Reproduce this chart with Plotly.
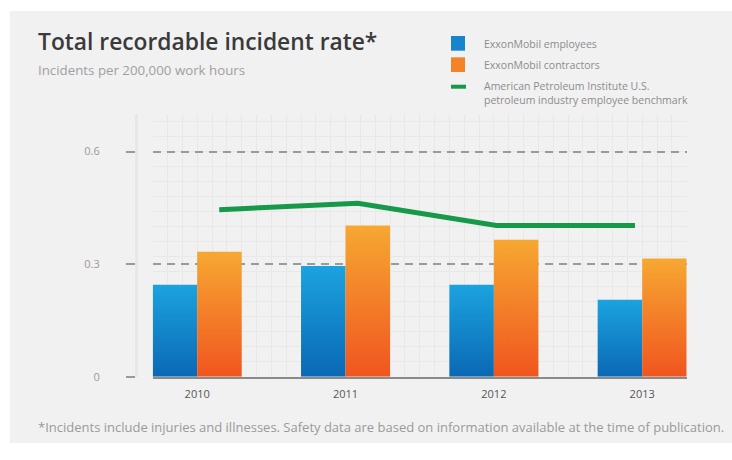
import plotly.graph_objects as go

# --- data -------------------------------------------------------------
years = ["2010", "2011", "2012", "2013"]
employees = [0.245, 0.295, 0.245, 0.205]
contractors = [0.333, 0.403, 0.365, 0.315]
api_benchmark = [0.445, 0.462, 0.403, 0.403]
y_ticks = [0, 0.3, 0.6]

# --- styling ------------------------------------------------------------
W, H = 732, 460
BLUE = ("#0a68b4", "#1ca3df")      # bottom, top
ORANGE = ("#f0551f", "#f6a832")    # bottom, top
GREEN = "#17994a"
BAR_W = 0.3


def px(x):
    return x / W


def py(y):
    return 1 - y / H


fig = go.Figure()


def add_bars(values, offset, colors, name):
    for i, v in enumerate(values):
        x0 = i + offset
        x1 = x0 + BAR_W
        fig.add_trace(go.Scatter(
            x=[x0, x0, x1, x1, x0],
            y=[0, v, v, 0, 0],
            mode="lines",
            fill="toself",
            line=dict(width=0),
            fillgradient=dict(type="vertical",
                              colorscale=[[0, colors[0]], [1, colors[1]]]),
            name=name,
            hoveron="fills",
            text=f"{name} {years[i]}: {v}",
            hoverinfo="text",
            showlegend=False,
        ))


add_bars(employees, -BAR_W, BLUE, "ExxonMobil employees")
add_bars(contractors, 0.0, ORANGE, "ExxonMobil contractors")

fig.add_trace(go.Scatter(
    x=list(range(len(years))),
    y=api_benchmark,
    xaxis="x2",
    mode="lines",
    line=dict(color=GREEN, width=5),
    name="American Petroleum Institute U.S. petroleum industry employee benchmark",
    showlegend=False,
))

dom_x = [px(152.7), px(686.7)]
dom_y = [py(376.7), py(114)]

fig.update_layout(
    width=W, height=H,
    margin=dict(l=0, r=0, t=0, b=0, autoexpand=False),
    paper_bgcolor="white",
    plot_bgcolor="#f4f4f4",
    font=dict(family="Open Sans", color="#777"),
    showlegend=False,
    xaxis=dict(
        domain=dom_x,
        range=[-0.3, 3.3],
        tickmode="array",
        tickvals=list(range(len(years))),
        ticktext=years,
        ticks="",
        ticklabelstandoff=6,
        tickfont=dict(size=11, color="#555"),
        showgrid=False,
        zeroline=False,
        showline=True,
        linecolor="#8a8a8a",
        linewidth=2,
        minor=dict(dtick=0.1, tick0=0, showgrid=True, griddash="solid",
                   gridcolor="#e8e8e8", gridwidth=1),
        fixedrange=True,
    ),
    xaxis2=dict(
        overlaying="x",
        range=[-0.48, 3.373],
        visible=False,
    ),
    yaxis=dict(
        domain=dom_y,
        range=[0, 0.7],
        anchor="free",
        position=px(136),
        tickmode="array",
        tickvals=y_ticks,
        ticktext=[f"{t:g}" for t in y_ticks],
        ticks="outside",
        ticklen=9,
        tickwidth=2,
        tickcolor="#9a9a9a",
        ticklabelstandoff=24,
        tickfont=dict(size=11, color="#9a9a9a"),
        showgrid=True,
        gridcolor="#9a9a9a",
        gridwidth=1.5,
        griddash="8px,6px",
        zeroline=False,
        showline=True,
        linecolor="#e8e8e8",
        linewidth=3,
        minor=dict(dtick=0.04, tick0=0, showgrid=True, griddash="solid",
                   gridcolor="#e8e8e8", gridwidth=1),
        fixedrange=True,
    ),
)

# gray panel behind everything
shapes = [dict(type="rect", xref="paper", yref="paper",
               x0=px(10), x1=px(732), y0=py(443), y1=py(11),
               fillcolor="#f1f1f1", line=dict(width=0), layer="below")]

# legend swatches
shapes += [
    dict(type="rect", xref="paper", yref="paper",
         x0=px(451), x1=px(465), y0=py(50.7), y1=py(36),
         fillcolor="#1785cc", line=dict(width=0)),
    dict(type="rect", xref="paper", yref="paper",
         x0=px(451), x1=px(465), y0=py(72), y1=py(57.3),
         fillcolor="#f38329", line=dict(width=0)),
    dict(type="line", xref="paper", yref="paper",
         x0=px(451), x1=px(466), y0=py(86.7), y1=py(86.7),
         line=dict(color=GREEN, width=4)),
]
fig.update_layout(shapes=shapes)

legend_font = dict(size=10.5, color="#8c8c8c", family="Open Sans")
annotations = [
    dict(text="Total recordable incident rate*", x=px(36), y=py(41.5),
         font=dict(size=22.8, color="#3a3a3a", family="Open Sans", weight=600)),
    dict(text="Incidents per 200,000 work hours", x=px(36), y=py(70),
         font=dict(size=13.3, color="#a0a0a0", family="Open Sans")),
    dict(text="ExxonMobil employees", x=px(482), y=py(44), font=legend_font),
    dict(text="ExxonMobil contractors", x=px(482), y=py(64.5), font=legend_font),
    dict(text="American Petroleum Institute U.S.<br>petroleum industry employee benchmark",
         x=px(482), y=py(93.3), font=legend_font, align="left"),
    dict(text="*Incidents include injuries and illnesses. Safety data are based on "
              "information available at the time of publication.",
         x=px(36), y=py(427), font=dict(size=13, color="#9a9a9a", family="Open Sans")),
]
for a in annotations:
    a.update(xref="paper", yref="paper", xanchor="left", yanchor="middle",
             showarrow=False)
fig.update_layout(annotations=annotations)

fig.write_html("out.html")
